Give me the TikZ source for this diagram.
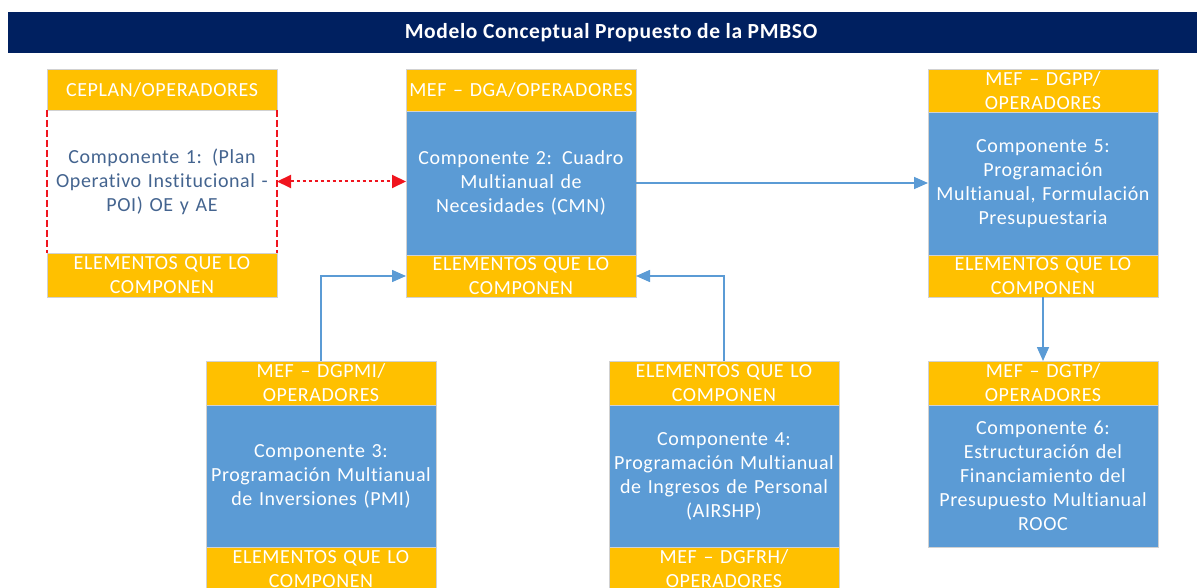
\documentclass[tikz,border=0pt]{standalone}
\usepackage{fontspec}
\setmainfont{Carlito}[LetterSpace=3, Ligatures={NoCommon}]
\usetikzlibrary{arrows.meta}
\definecolor{navy}{HTML}{002060}
\definecolor{gold}{HTML}{FFC000}
\definecolor{bluebox}{HTML}{5B9BD5}
\definecolor{slate}{HTML}{44648F}
\definecolor{dashred}{HTML}{F0141E}
\tikzset{
  base/.style={anchor=north west, inner sep=0pt, outer sep=0pt, minimum width=230pt,
    text width=228pt, align=center, font=\fontsize{20}{24}\selectfont,
    draw=black!18, line width=0.6pt},
  hdrbox/.style={base, fill=gold, text=white},
  bodybox/.style={base, fill=bluebox, text=white},
  conn/.style={draw=bluebox, line width=1.6pt, -{Triangle[length=14pt,width=12pt]}},
  redconn/.style={draw=dashred, line width=2pt, dash pattern=on 3pt off 3pt,
    {Triangle[length=14pt,width=13pt]}-{Triangle[length=14pt,width=13pt]}},
  reddash/.style={draw=dashred, line width=1.3pt, dash pattern=on 7pt off 3pt},
}
\begin{document}
\begin{tikzpicture}[x=1pt,y=-1pt]
\useasboundingbox (0,0) rectangle (1197,588);
\clip (0,0) rectangle (1197,588);
% title
\node[anchor=north west, fill=navy, minimum width=1189pt, minimum height=41pt, inner sep=0pt] (bar) at (8,12) {};
\node[text=white, font=\bfseries\fontsize{21.5}{24}\selectfont, inner sep=0pt] (title) at (611,32.5) {Modelo Conceptual Propuesto de la PMBSO};
% box 1
\node[hdrbox, minimum height=41pt] (h1) at (47,69) {CEPLAN/OPERADORES};
\node[base, draw=none, text=slate, minimum height=143pt] (b1) at (47,110) {Componente 1: (Plan\\Operativo Institucional -\\POI) OE y AE};
\draw[reddash] (b1.north west) -- (b1.south west);
\draw[reddash] (b1.north east) -- (b1.south east);
\draw[draw=dashred!30, line width=0.8pt, dash pattern=on 7pt off 3pt] (b1.south west) -- (b1.south east);
\node[hdrbox, minimum height=44pt] (f1) at (47,253) {ELEMENTOS QUE LO\\COMPONEN};
% box 2
\node[hdrbox, minimum height=42pt] (h2) at (406,69) {MEF -- DGA/OPERADORES};
\node[bodybox, minimum height=144pt] (b2) at (406,111) {Componente 2: Cuadro\\Multianual de\\Necesidades (CMN)};
\node[hdrbox, minimum height=42pt] (f2) at (406,255) {ELEMENTOS QUE LO\\COMPONEN};
% box 5
\node[hdrbox, minimum height=43pt] (h5) at (928,69) {MEF -- DGPP/\\OPERADORES};
\node[bodybox, minimum height=143pt] (b5) at (928,112) {Componente 5:\\Programación\\Multianual, Formulación\\Presupuestaria};
\node[hdrbox, minimum height=42pt] (f5) at (928,255) {ELEMENTOS QUE LO\\COMPONEN};
% box 3
\node[hdrbox, minimum height=44pt] (h3) at (206,361) {MEF -- DGPMI/\\OPERADORES};
\node[bodybox, minimum height=142pt] (b3) at (206,405) {Componente 3:\\Programación Multianual\\de Inversiones (PMI)};
\node[hdrbox, minimum height=44pt] (f3) at (206,547) {ELEMENTOS QUE LO\\COMPONEN};
% box 4
\node[hdrbox, minimum height=44pt] (h4) at (609,361) {ELEMENTOS QUE LO\\COMPONEN};
\node[bodybox, minimum height=142pt] (b4) at (609,405) {Componente 4:\\Programación Multianual\\de Ingresos de Personal\\(AIRSHP)};
\node[hdrbox, minimum height=44pt] (f4) at (609,547) {MEF -- DGFRH/\\OPERADORES};
% box 6
\node[hdrbox, minimum height=44pt] (h6) at (928,361) {MEF -- DGTP/\\OPERADORES};
\node[bodybox, minimum height=142pt] (b6) at (928,405) {Componente 6:\\Estructuración del\\Financiamiento del\\Presupuesto Multianual\\ROOC};
% connectors
\draw[redconn] (b1.east) -- (b1.east -| b2.west);
\draw[conn] (b2.east) -- (b2.east -| b5.west);
\draw[conn] (h3.north) |- (f2.west);
\draw[conn] (h4.north) |- (f2.east);
\draw[conn] (f5.south) -- (h6.north);
\end{tikzpicture}
\end{document}
